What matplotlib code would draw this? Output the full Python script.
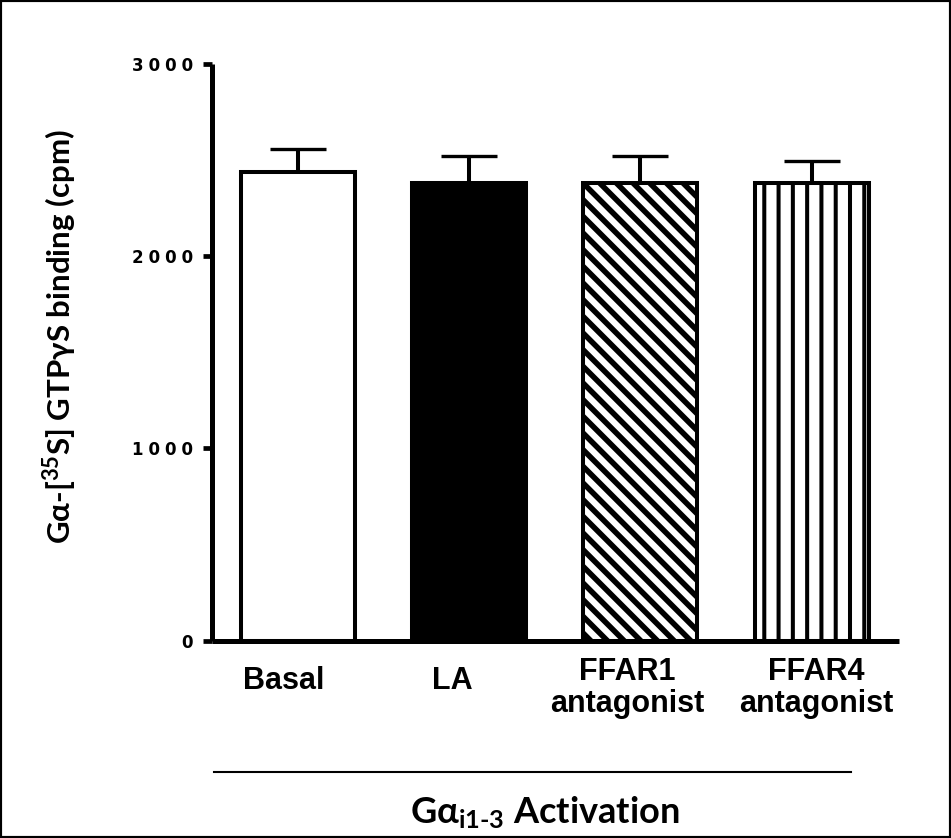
import matplotlib
matplotlib.use('Agg')
import matplotlib.pyplot as plt
import matplotlib.hatch as mhatch
from matplotlib.transforms import ScaledTranslation
from matplotlib.patches import Rectangle
from matplotlib.lines import Line2D
from matplotlib.ticker import FuncFormatter, FixedLocator
import numpy as np

# ---------------- data ----------------
categories = ['Basal', 'LA', 'FFAR1\nantagonist', 'FFAR4\nantagonist']
means = [2436, 2382, 2381, 2381]
sems = [121, 141, 138, 113]
y_ticks = [0, 1000, 2000, 3000]
y_label = r'Gα-[$^{\text{35}}$S] GTPγS binding (cpm)'
x_title = r'Gα$_{\text{i1-3}}$ Activation'

# ---------------- styles ----------------
face_colors = ['white', 'black', 'white', 'white']
hatches = ['', '', '\\\\', '|']
hatch_lws = [0, 0, 4.0, 2.9]
label_dx_px = [-14, -17, -13, 5]
label_dy_px = [0, 0, -7, -7]


# slightly denser vertical hatch (7 lines per inch instead of 6)
class _DenseVertical(mhatch.VerticalHatch):
    def __init__(self, hatch, density):
        super().__init__(hatch, density)
        self.num_lines = int((hatch.count('|') + hatch.count('+')) * density * 7 / 6)
        self.num_vertices = self.num_lines * 2


mhatch._hatch_types = [(_DenseVertical if t is mhatch.VerticalHatch else t)
                       for t in mhatch._hatch_types]

plt.rcParams['mathtext.fontset'] = 'custom'
plt.rcParams['mathtext.rm'] = 'Lato:bold'
plt.rcParams['mathtext.bf'] = 'Lato:bold'
plt.rcParams['mathtext.it'] = 'Lato:bold'
plt.rcParams['hatch.linewidth'] = 3.5

W, H = 951, 838
fig = plt.figure(figsize=(W / 100, H / 100), dpi=100)
ax = fig.add_axes([212 / W, 1 - 640.5 / H, 687 / W, 576.5 / H])

x = np.arange(len(categories))
ax.errorbar(x, means, yerr=[np.zeros(len(sems)), sems], fmt='none',
            ecolor='black', elinewidth=2.9, capsize=20, capthick=2.4, zorder=1)
bars = ax.bar(x, means, width=0.665, color=face_colors, edgecolor='black',
              linewidth=2.9, zorder=2)
for b, h, hl in zip(bars, hatches, hatch_lws):
    if h:
        b.set_hatch(h)
        if hasattr(b, 'set_hatch_linewidth'):
            b.set_hatch_linewidth(hl)

ax.set_xlim(-0.5, 3.51)
ax.set_ylim(0, 3000)
ax.yaxis.set_major_locator(FixedLocator(y_ticks))
ax.yaxis.set_major_formatter(
    FuncFormatter(lambda v, p: '\u2009\u200a'.join(str(int(v)))))

for s in ['top', 'right']:
    ax.spines[s].set_visible(False)
for s in ['left', 'bottom']:
    ax.spines[s].set_linewidth(3.6)
    ax.spines[s].set_capstyle('butt')

ax.tick_params(axis='y', direction='out', length=6.5, width=3.4, pad=7,
               labelsize=12)
ax.tick_params(axis='x', length=0, pad=29, labelsize=22)
ax.set_xticks(x)
ax.set_xticklabels(categories, fontfamily='Liberation Sans', fontweight='bold',
                   va='center', linespacing=1.1)
for lab in ax.get_yticklabels():
    lab.set_fontfamily('DejaVu Sans')
    lab.set_fontweight('bold')

for lab, dx, dy in zip(ax.get_xticklabels(), label_dx_px, label_dy_px):
    lab.set_transform(lab.get_transform() +
                      ScaledTranslation(dx / 100, dy / 100, fig.dpi_scale_trans))

ax.set_ylabel(y_label, fontfamily='Lato', fontweight='bold', fontsize=22.5,
              va='center')
ax.yaxis.set_label_coords((60 - 212) / 687, (640.5 - 337) / 576.5)

# separator line and group title
fig.add_artist(Line2D([213.5 / W, 851 / W], [1 - 772 / H] * 2,
                      transform=fig.transFigure, color='black', lw=1.5))
fig.text(545 / W, 1 - 823 / H, x_title, ha='center', va='baseline',
         fontsize=26, fontfamily='Lato', fontweight='bold')

# figure border
fig.add_artist(Rectangle((0, 0), 1, 1, transform=fig.transFigure, fill=False,
                         edgecolor='black', linewidth=3))

fig.savefig('out.png', dpi=100)
